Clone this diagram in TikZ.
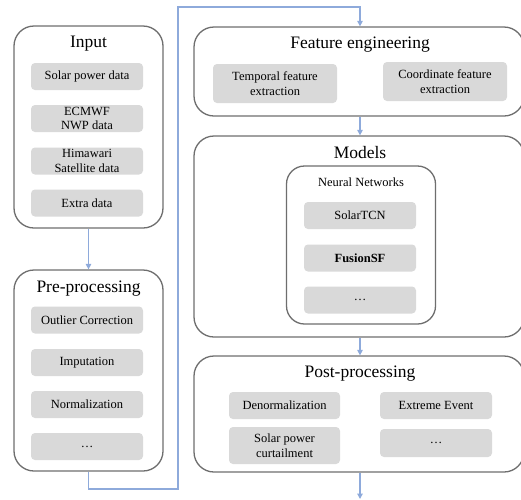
\documentclass[tikz,border=0pt]{standalone}
\usepackage{fontspec}
\setmainfont{Liberation Serif}
\usetikzlibrary{arrows.meta}
\definecolor{frame}{HTML}{6E6E6E}
\definecolor{cell}{HTML}{D9D9D9}
\definecolor{flow}{HTML}{8EAADB}
\tikzset{
  stage/.style={draw=frame, line width=1.3pt, rounded corners=20pt, fill=white, inner sep=0pt},
  cellbox/.style={fill=cell, rounded corners=4pt, inner sep=0pt, align=center,
                  font=\fontsize{12.5}{14.5}\selectfont},
  heading/.style={font=\fontsize{17.5}{19}\selectfont, inner sep=0pt},
  subheading/.style={font=\fontsize{12.5}{14}\selectfont, inner sep=0pt},
  flowline/.style={draw=flow, line width=1.3pt},
  flowarrow/.style={flowline, -{Triangle[length=5.5pt,width=5.5pt]}}
}
\begin{document}
\begin{tikzpicture}[x=1pt, y=-1pt]
\useasboundingbox (0,0) rectangle (521,499);
\clip (0,0) rectangle (521,499);

% ---- left column: input ----
\node[stage, minimum width=149pt, minimum height=202pt] (input) at (88.5,127) {};
\node[heading] (inputT) at (88.5,44) {Input};
\node[cellbox, minimum width=112pt, minimum height=27pt] (c1) at (87,76.5) {Solar power data};
\node[cellbox, minimum width=112pt, minimum height=27pt] (c2) at (87,118.5) {ECMWF\\NWP data};
\node[cellbox, minimum width=112pt, minimum height=27pt] (c3) at (87,161) {Himawari\\Satellite data};
\node[cellbox, minimum width=112pt, minimum height=27pt] (c4) at (87,203) {Extra data};

% ---- left column: pre-processing ----
\node[stage, minimum width=149pt, minimum height=201pt] (pre) at (88.5,370.5) {};
\node[heading] (preT) at (88.5,289) {Pre-processing};
\node[cellbox, minimum width=112pt, minimum height=27pt] (p1) at (87,320) {Outlier Correction};
\node[cellbox, minimum width=112pt, minimum height=27pt] (p2) at (87,362.5) {Imputation};
\node[cellbox, minimum width=112pt, minimum height=27pt] (p3) at (87,404.5) {Normalization};
\node[cellbox, minimum width=112pt, minimum height=27pt] (p4) at (87,446.5) {\dots};

% ---- right column: feature engineering ----
\node[stage, minimum width=330pt, minimum height=89pt] (feat) at (359,71.5) {};
\node[heading] (featT) at (360,45) {Feature engineering};
\node[cellbox, minimum width=124pt, minimum height=39pt] (f1) at (275,83.5) {Temporal feature\\extraction};
\node[cellbox, minimum width=124pt, minimum height=39pt] (f2) at (445,81.5) {Coordinate feature\\extraction};

% ---- right column: models ----
\node[stage, minimum width=330pt, minimum height=201pt] (models) at (359,236.5) {};
\node[heading] (modelsT) at (360,153) {Models};
\node[stage, rounded corners=18pt, minimum width=149pt, minimum height=158pt] (nn) at (361,245) {};
\node[subheading] (nnT) at (361,182) {Neural Networks};
\node[cellbox, minimum width=112pt, minimum height=27pt] (m1) at (360,215.5) {SolarTCN};
\node[cellbox, minimum width=112pt, minimum height=27pt] (m2) at (360,258) {\textbf{FusionSF}};
\node[cellbox, minimum width=112pt, minimum height=27pt] (m3) at (360,300) {\dots};

% ---- right column: post-processing ----
\node[stage, minimum width=330pt, minimum height=116pt] (post) at (359,414) {};
\node[heading] (postT) at (360,374) {Post-processing};
\node[cellbox, minimum width=111pt, minimum height=27pt] (q1) at (284.5,405.5) {Denormalization};
\node[cellbox, minimum width=112pt, minimum height=27pt] (q2) at (436,405.5) {Extreme Event};
\node[cellbox, minimum width=111pt, minimum height=37pt] (q3) at (284.5,445.5) {Solar power\\curtailment};
\node[cellbox, minimum width=112pt, minimum height=28pt] (q4) at (436,443) {\dots};

% ---- flow connectors ----
\coordinate (bendA) at (178,489);
\coordinate (bendB) at (178,7);
\coordinate (outEnd) at (360,499);
\draw[flowarrow] (input.south) -- (pre.north);
\draw[flowarrow] (pre.south) |- (bendA) -- (bendB) -| (feat.north -| m1.north);
\draw[flowarrow] (feat.south -| m1.north) -- (models.north -| m1.north);
\draw[flowarrow] (models.south -| m1.north) -- (post.north -| m1.north);
\draw[flowarrow] (post.south -| m1.north) -- (outEnd);
\end{tikzpicture}
\end{document}
